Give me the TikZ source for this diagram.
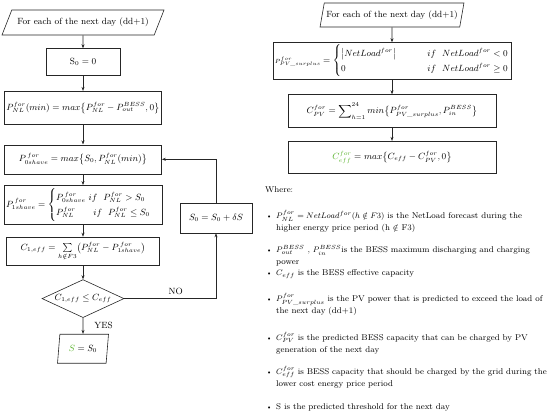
\documentclass[tikz,border=0pt]{standalone}
\usepackage{amsmath}
\usepackage{amssymb}
\usepackage{xcolor}
\usepackage{tikz}
\usetikzlibrary{positioning,shapes.geometric,arrows.meta}
\definecolor{thrgreen}{RGB}{88,178,42}

\begin{document}
\begin{tikzpicture}[
			x=1pt, y=1pt,
			font=\fontsize{9}{12.5}\selectfont,
			every node/.style={inner sep=1pt},
			box/.style={draw=black!85, line width=0.6pt, rectangle, minimum width=157pt, inner sep=2pt},
			io/.style={draw=black!85, line width=0.6pt, trapezium, trapezium left angle=53, trapezium right angle=127, trapezium stretches body, inner sep=2pt},
			decision/.style={draw=black!85, line width=0.6pt, diamond, aspect=2.2, inner sep=0pt, minimum width=82pt, minimum height=38pt},
			flow/.style={draw=black!85, line width=0.6pt, -{Stealth[length=4pt,width=3pt]}},
			note/.style={anchor=west, align=left, inner sep=0pt, font=\fontsize{8.4}{12.3}\selectfont}
			]
			\useasboundingbox (0,0) rectangle (550,-417);

			% left flow chart
			\node[io, minimum width=162pt, minimum height=25pt] (startL) at (83,-22.5) {For each of the next day (dd+1)};
			\node[box, minimum width=74pt, minimum height=27pt, below=13pt of startL] (init) {$\mathrm{S}_0 = 0$};
			\node[box, minimum height=33pt, below=15pt of init] (pmin) {$P_{NL}^{for}(min) = max\bigl\{P_{NL}^{for} - P_{out}^{BESS}, 0\bigr\}$};
			\node[box, minimum height=29pt, below=20pt of pmin] (pzero) {$P_{0shave}^{\,for} = max\bigl\{S_0, P_{NL}^{for}(min)\bigr\}$};
			\node[box, minimum height=39pt, below=11pt of pzero] (pone) {$P_{1shave}^{\,for} = \begin{cases} P_{0shave}^{\,for} \ if\ \ P_{NL}^{for} > S_0\\ P_{NL}^{for} \qquad if\ \ P_{NL}^{for} \leq S_0 \end{cases}$};
			\node[box, minimum width=153pt, minimum height=28pt, below=12pt of pone] (cone) {$C_{1,eff} = \sum\limits_{h\notin F3}\bigl(P_{NL}^{for} - P_{1shave}^{\,for}\bigr)$};
			\node[decision, below=14pt of cone] (check) {$C_{1,eff} \leq C_{eff}$};
			\node[io, trapezium left angle=78, trapezium right angle=102, minimum width=51pt, minimum height=29pt, below=16pt of check] (result) {${\color{thrgreen}S} = S_0$};
			\node[box, minimum width=72pt, minimum height=30pt] (incr) at (216,-218) {$S_0 = S_0 + \delta S$};

			\draw[flow] (startL) -- (init);
			\draw[flow] (init) -- (pmin);
			\draw[flow] (pmin) -- (pzero);
			\draw[flow] (pzero) -- (pone);
			\draw[flow] (pone) -- (cone);
			\draw[flow] (cone) -- (check);
			\draw[flow] (check) -- node[right=10pt] {YES} (result);
			\draw[flow] (check.east) -| node[pos=0.28, above=3pt] {NO} (incr.south);
			\draw[flow] (incr.north) |- (pzero.east);

			% right flow chart
			\node[io, trapezium left angle=72, trapezium right angle=108, minimum width=136pt, minimum height=24pt] (startR) at (392,-15) {For each of the next day (dd+1)};
			\node[box, minimum width=208pt, minimum height=30pt, below=15pt of startR] (surplus) {${\scriptstyle P_{PV\_surplus}^{for}} = \begin{cases} \left|NetLoad^{for}\right| & \hspace{2.5em} if\ \ NetLoad^{for} < 0\\ 0 & \hspace{2.5em} if\ \ NetLoad^{for} \geq 0 \end{cases}$};
			\node[box, minimum width=208pt, minimum height=33pt, below=15pt of surplus] (cpv) {$C_{PV}^{for} = \displaystyle\sum\nolimits_{h=1}^{24} min\bigl\{P_{PV\_surplus}^{for}, P_{in}^{BESS}\bigr\}$};
			\node[box, minimum width=208pt, minimum height=32pt, below=13pt of cpv] (ceff) {${\color{thrgreen}C_{eff}^{for}} = max\bigl\{C_{eff} - C_{PV}^{for}, 0\bigr\}$};

			\draw[flow] (startR) -- (surplus);
			\draw[flow] (surplus) -- (cpv);
			\draw[flow] (cpv) -- (ceff);

			% legend
			\node[note] (where) at (265,-190) {Where:};
			\node[note] (itemA) at (276,-221.5) {\llap{{\scriptsize\textbullet}\hspace{4pt}}$P_{NL}^{for} = NetLoad^{for}(h \notin F3)$ is the NetLoad forecast during the\\higher energy price period (h $\notin$ F3)};
			\node[note] (itemB) at (276,-256) {\llap{{\scriptsize\textbullet}\hspace{4pt}}$P_{out}^{BESS}$ , $P_{in}^{BESS}$is the BESS maximum discharging and charging\\power};
			\node[note] (itemC) at (276,-274) {\llap{{\scriptsize\textbullet}\hspace{4pt}}$C_{eff}$ is the BESS effective capacity};
			\node[note] (itemD) at (276,-304.5) {\llap{{\scriptsize\textbullet}\hspace{4pt}}$P_{PV\_surplus}^{for}$ is the PV power that is predicted to exceed the load of\\the next day (dd+1)};
			\node[note] (itemE) at (276,-343) {\llap{{\scriptsize\textbullet}\hspace{4pt}}$C_{PV}^{for}$ is the predicted BESS capacity that can be charged by PV\\generation of the next day};
			\node[note] (itemF) at (276,-377) {\llap{{\scriptsize\textbullet}\hspace{4pt}}$C_{eff}^{for}$ is BESS capacity that should be charged by the grid during the\\lower cost energy price period};
			\node[note] (itemG) at (276,-407) {\llap{{\scriptsize\textbullet}\hspace{4pt}}S is the predicted threshold for the next day};
		\end{tikzpicture}
\end{document}
